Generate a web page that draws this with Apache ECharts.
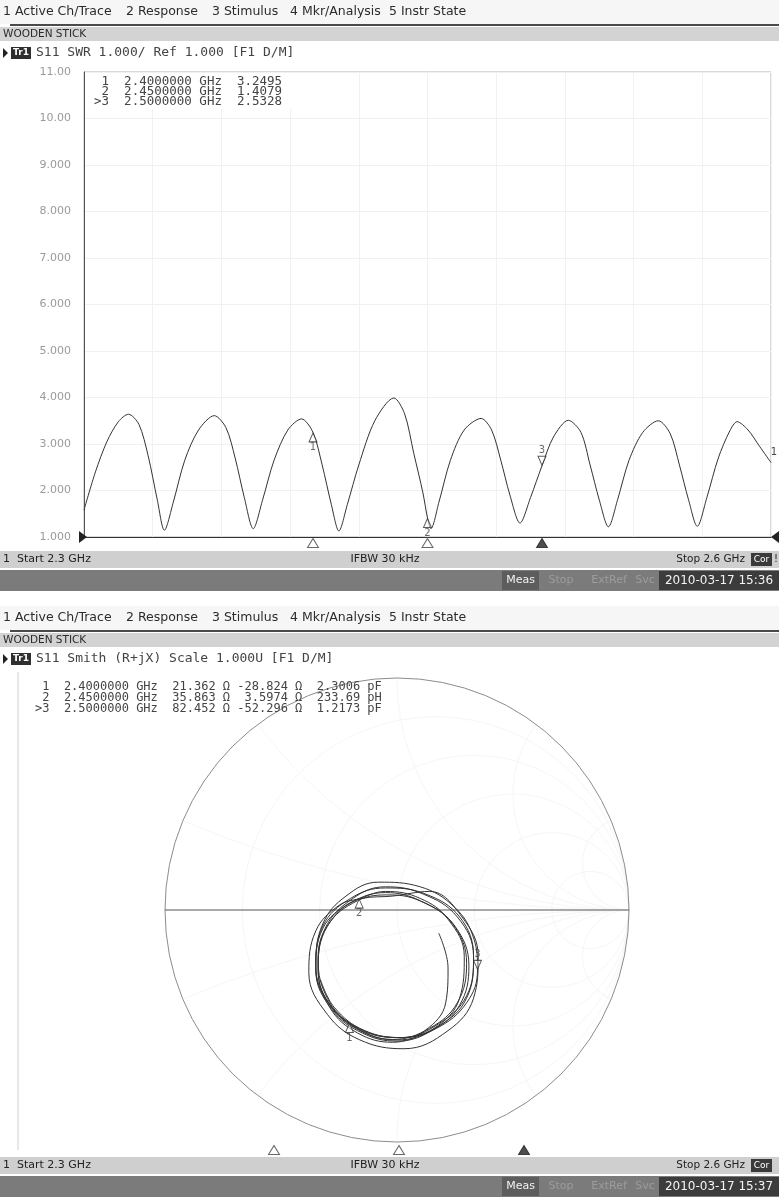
<!DOCTYPE html>
<html>
<head>
<meta charset="utf-8">
<script src="https://cdn.jsdelivr.net/npm/echarts/dist/echarts.min.js"></script>
<style>html,body{margin:0;padding:0;background:#fff}#c{width:779px;height:1197px}</style>
</head>
<body>
<div id="c"></div>
<script>
// ---------------- DATA ----------------
// SWR trace (S11 SWR)
const freqGHz = [
  2.3000, 2.3050, 2.3100, 2.3150, 2.3194, 2.3240, 2.3280, 2.3320, 2.3351,
  2.3390, 2.3440, 2.3500, 2.3569, 2.3620, 2.3660, 2.3700, 2.3739,
  2.3780, 2.3830, 2.3890, 2.3950, 2.4000, 2.4040, 2.4080, 2.4113,
  2.4150, 2.4200, 2.4270, 2.4353, 2.4400, 2.4440, 2.4480, 2.4500, 2.4515,
  2.4550, 2.4600, 2.4660, 2.4734, 2.4780, 2.4820, 2.4860, 2.4904,
  2.4950, 2.5000, 2.5050, 2.5115, 2.5170, 2.5210, 2.5250, 2.5290,
  2.5330, 2.5380, 2.5440, 2.5508, 2.5560, 2.5600, 2.5640, 2.5678,
  2.5720, 2.5770, 2.5820, 2.5852, 2.5900, 2.5950, 2.6000
];
const swrValues = [
  1.58, 2.40, 3.05, 3.48, 3.64, 3.42, 2.75, 1.80, 1.145,
  1.75, 2.65, 3.30, 3.61, 3.35, 2.70, 1.85, 1.18,
  1.80, 2.65, 3.30, 3.54, 3.2495, 2.55, 1.70, 1.13,
  1.70, 2.55, 3.50, 3.99, 3.65, 2.80, 1.95, 1.4079, 1.18,
  1.75, 2.65, 3.30, 3.55, 3.30, 2.65, 1.90, 1.30,
  1.85, 2.5328, 3.15, 3.51, 3.25, 2.55, 1.80, 1.22,
  1.80, 2.65, 3.25, 3.50, 3.22, 2.55, 1.80, 1.23,
  1.85, 2.70, 3.28, 3.48, 3.30, 2.95, 2.60
];
const smithRe = [
  0.18, 0.22, 0.21, 0.12, -0.02, -0.17, -0.29, -0.34, -0.30, -0.17, -0.03,
  0.12, 0.25, 0.31, 0.27, 0.15, 0.00, -0.15, -0.28, -0.35, -0.32, -0.20, -0.05,
  0.10, 0.24, 0.30, 0.26, 0.14, -0.02, -0.205, -0.31, -0.34, -0.28, -0.15, -0.02,
  0.14, 0.28, 0.35, 0.33, 0.22, 0.03, -0.16, -0.30, -0.38, -0.35, -0.25, -0.163, -0.05,
  0.10, 0.22, 0.29, 0.27, 0.16, 0.00, -0.16, -0.29, -0.35, -0.32, -0.22, -0.08,
  0.10, 0.25, 0.33, 0.347, 0.30, 0.17, 0.01, -0.15, -0.28, -0.34, -0.31, -0.19, -0.05,
  0.11, 0.26, 0.33, 0.30, 0.18, 0.02, -0.14, -0.28, -0.35, -0.32, -0.20, -0.05,
  0.12, 0.27, 0.33, 0.30, 0.18, 0.02, -0.14, -0.27, -0.33
];
const smithIm = [
  -0.10, -0.25, -0.40, -0.52, -0.57, -0.53, -0.42, -0.25, -0.07, 0.04, 0.065,
  0.03, -0.07, -0.24, -0.41, -0.52, -0.565, -0.53, -0.43, -0.26, -0.08, 0.03, 0.075,
  0.04, -0.06, -0.23, -0.40, -0.51, -0.558, -0.487, -0.36, -0.20, -0.04, 0.05, 0.06,
  0.08, -0.03, -0.20, -0.38, -0.52, -0.598, -0.56, -0.45, -0.27, -0.09, 0.02, 0.049, 0.08,
  0.05, -0.04, -0.20, -0.38, -0.51, -0.56, -0.52, -0.41, -0.24, -0.06, 0.06, 0.12,
  0.10, 0.01, -0.12, -0.258, -0.40, -0.51, -0.55, -0.52, -0.42, -0.26, -0.08, 0.05, 0.10,
  0.07, -0.03, -0.20, -0.38, -0.50, -0.55, -0.52, -0.42, -0.25, -0.07, 0.05, 0.095,
  0.07, -0.03, -0.20, -0.37, -0.49, -0.55, -0.52, -0.42, -0.30
];
// markers
const markerIds = ['1', '2', '3'];
const markerFreqGHz = [2.40, 2.45, 2.50];
const markerSWR = [3.2495, 1.4079, 2.5328];
const markerResOhm = [21.362, 35.863, 82.452];
const markerReactOhm = [-28.824, 3.5974, -52.296];
const markerEquiv = [2.3006, 233.69, 1.2173];
const markerEquivUnit = ['pF', 'pH', 'pF'];
const markerGammaRe = [-0.205, -0.163, 0.347];
const markerGammaIm = [-0.487, 0.049, -0.258];
const activeMarker = 2;
// texts
const menuItems = ['1 Active Ch/Trace', '2 Response', '3 Stimulus', '4 Mkr/Analysis', '5 Instr State'];
const channelTitle = 'WOODEN STICK';
const traceTitles = ['S11 SWR 1.000/ Ref 1.000 [F1 D/M]', 'S11 Smith (R+jX) Scale 1.000U [F1 D/M]'];
const startLabel = '1  Start 2.3 GHz';
const ifbwLabel = 'IFBW 30 kHz';
const stopLabel = 'Stop 2.6 GHz';
const statusItems = ['Meas', 'Stop', 'ExtRef', 'Svc'];
const timestamps = ['2010-03-17 15:36', '2010-03-17 15:37'];
const freqMin = 2.3, freqMax = 2.6;
const swrMin = 1, swrMax = 11, swrStep = 1;

// ---------------- LAYOUT ----------------
const W = 779;
const panelY = [0, 606];
const UI = '"DejaVu Sans", sans-serif';
const MONO = '"DejaVu Sans Mono", monospace';
const swrGrid = { left: 84, top: 72, width: 687, height: 465 };
const smith = { cx: 397, cy: 910, R: 232 };

const G = [];
function txt(x, y, s, o) {
  o = o || {};
  G.push({ type: 'text', z: o.z || 20, x: x, y: y, silent: true,
    style: { text: s, fill: o.fill || '#333', font: o.font || ('11px ' + UI),
      textAlign: o.align || 'left', textVerticalAlign: 'middle' } });
}
function rect(x, y, w, h, fill, z, stroke) {
  G.push({ type: 'rect', z: z == null ? 1 : z, silent: true, shape: { x: x, y: y, width: w, height: h },
    style: stroke ? { fill: fill, stroke: stroke, lineWidth: 1 } : { fill: fill } });
}
function poly(points, fill, stroke, z) {
  G.push({ type: 'polygon', z: z || 15, silent: true, shape: { points: points },
    style: { fill: fill, stroke: stroke || null, lineWidth: 1 } });
}

panelY.forEach(function (py, p) {
  // menu bar
  rect(0, py, W, 24, '#f6f6f6', 0);
  const menuX = [3, 126, 212, 290, 389];
  menuItems.forEach(function (m, i) { txt(menuX[i], py + 12, m, { font: '12.5px ' + UI, fill: '#2b2b2b' }); });
  rect(10, py + 24, W - 10, 2, '#4a4a4a', 1);
  // channel title bar
  rect(0, py + 27, W, 14, '#d3d3d3', 0);
  txt(3, py + 34, channelTitle, { font: '10.5px ' + UI, fill: '#2a2a2a' });
  // trace title
  poly([[3, py + 48], [3, py + 58], [8, py + 53]], '#222');
  rect(11, py + 47, 20, 12, '#2f2f2f', 2);
  txt(21, py + 53, 'Tr1', { font: 'bold 9px ' + UI, fill: '#fff', align: 'center' });
  txt(36, py + 53, traceTitles[p], { font: '13px ' + MONO, fill: '#444' });
  // status bar 1
  const sb = py + 551;
  rect(0, sb, W, 17, '#cfcfcf', 0);
  txt(3, sb + 8.5, startLabel, { font: '11px ' + UI, fill: '#222' });
  txt(385, sb + 8.5, ifbwLabel, { font: '11px ' + UI, fill: '#222', align: 'center' });
  txt(745, sb + 8.5, stopLabel, { font: '10.5px ' + UI, fill: '#222', align: 'right' });
  rect(751, sb + 2, 21, 13, '#3a3a3a', 2);
  txt(761.5, sb + 8.5, 'Cor', { font: '9px ' + UI, fill: '#fff', align: 'center' });
  if (p === 0) txt(776, sb + 8.5, '!', { font: '10px ' + UI, fill: '#222', align: 'center' });
  // status bar 2
  const db = py + 570;
  rect(0, db, W, 21, '#7b7b7b', 0);
  rect(502, db + 1, 37, 19, '#5d5d5d', 1);
  txt(520.5, db + 10.5, statusItems[0], { font: '11px ' + UI, fill: '#f2f2f2', align: 'center' });
  txt(561, db + 10.5, statusItems[1], { font: '11px ' + UI, fill: '#9c9c9c', align: 'center' });
  txt(609, db + 10.5, statusItems[2], { font: '11px ' + UI, fill: '#9c9c9c', align: 'center' });
  txt(645, db + 10.5, statusItems[3], { font: '11px ' + UI, fill: '#9c9c9c', align: 'center' });
  rect(659, db + 1, 120, 19, '#3c3c3c', 1);
  txt(719, db + 10.5, timestamps[p], { font: '12px ' + UI, fill: '#f4f4f4', align: 'center' });
});

// marker tables
function pad(s, n) { s = String(s); while (s.length < n) s = ' ' + s; return s; }
const swrRows = markerIds.map(function (id, i) {
  return pad((i === activeMarker ? '>' : '') + id, 2) + '  ' + markerFreqGHz[i].toFixed(7) + ' GHz  ' + markerSWR[i].toFixed(4);
});
rect(88, 73, 205, 36, '#fff', 3);
swrRows.forEach(function (r, i) { txt(94, 82 + i * 10, r, { font: '12.5px ' + MONO, fill: '#444' }); });
const smRows = markerIds.map(function (id, i) {
  return pad((i === activeMarker ? '>' : '') + id, 2) + '  ' + markerFreqGHz[i].toFixed(7) + ' GHz  ' +
    pad(markerResOhm[i].toPrecision(5), 6) + ' \u03A9 ' + pad(markerReactOhm[i].toPrecision(5), 7) + ' \u03A9  ' +
    markerEquiv[i].toPrecision(5) + ' ' + markerEquivUnit[i];
});
smRows.forEach(function (r, i) { txt(35, 687 + i * 11, r, { font: '12px ' + MONO, fill: '#444' }); });

// SWR plot edge triangles
const yBase = swrGrid.top + swrGrid.height;
poly([[79, yBase - 6], [79, yBase + 6], [87, yBase]], '#222');
poly([[779, yBase - 6], [779, yBase + 6], [771, yBase]], '#222');
txt(774, 452, '1', { font: '10px ' + UI, fill: '#444', align: 'center' });

// Smith chart structure
const faint = '#f6f6f6';
[0.2, 0.5, 1, 2, 5].forEach(function (r) {
  G.push({ type: 'circle', z: 1, silent: true,
    shape: { cx: smith.cx + smith.R * r / (1 + r), cy: smith.cy, r: smith.R / (1 + r) },
    style: { fill: 'none', stroke: faint, lineWidth: 1 } });
});
[0.2, 0.5, 1, 2, 5, -0.2, -0.5, -1, -2, -5].forEach(function (x) {
  const pts = [];
  for (let k = 0; k <= 200; k++) {
    const u = k / 200 * 0.995, r = u / (1 - u);
    const d = (r + 1) * (r + 1) + x * x;
    pts.push([smith.cx + smith.R * (r * r - 1 + x * x) / d, smith.cy - smith.R * 2 * x / d]);
  }
  G.push({ type: 'polyline', z: 1, silent: true, shape: { points: pts }, style: { stroke: faint, lineWidth: 1, fill: null } });
});
G.push({ type: 'circle', z: 2, silent: true, shape: { cx: smith.cx, cy: smith.cy, r: smith.R },
  style: { fill: 'none', stroke: '#8c8c8c', lineWidth: 1 } });
G.push({ type: 'line', z: 2, silent: true, shape: { x1: smith.cx - smith.R, y1: smith.cy, x2: smith.cx + smith.R, y2: smith.cy },
  style: { stroke: '#555', lineWidth: 1 } });
G.push({ type: 'line', z: 1, silent: true, shape: { x1: 18, y1: 672, x2: 18, y2: 1150 },
  style: { stroke: '#d0d0d0', lineWidth: 1 } });

// ---------------- CHART ----------------
const chart = echarts.init(document.getElementById('c'));
const lblFont = { fontFamily: 'DejaVu Sans', fontSize: 10, color: '#444' };
const upTri = 'path://M5,0 L10,9 L0,9 Z';
const downTri = 'path://M0,0 L10,0 L5,9 Z';

function stimMarkers(xi, yi) {
  return {
    type: 'scatter', xAxisIndex: xi, yAxisIndex: yi, silent: true, z: 5,
    data: markerFreqGHz.map(function (f, i) {
      return { value: [f, 0.5], itemStyle: i === activeMarker ? { color: '#222', borderColor: '#222' } : { color: '#fff', borderColor: '#444' } };
    }),
    symbol: upTri, symbolSize: [11, 9], itemStyle: { borderWidth: 1 }
  };
}

chart.setOption({
  animation: false,
  backgroundColor: '#fff',
  graphic: { elements: G },
  grid: [
    { left: swrGrid.left, top: swrGrid.top, width: swrGrid.width, height: swrGrid.height, show: true, borderColor: '#b5b5b5', borderWidth: 1, backgroundColor: 'transparent' },
    { left: smith.cx - smith.R, top: smith.cy - smith.R, width: 2 * smith.R, height: 2 * smith.R },
    { left: swrGrid.left, top: 538, width: swrGrid.width, height: 10 },
    { left: 24, top: 1145, width: 750, height: 10 }
  ],
  xAxis: [
    { gridIndex: 0, type: 'value', min: freqMin, max: freqMax, axisLine: { show: true, onZero: false, lineStyle: { color: '#333', width: 1 } }, axisTick: { show: false }, axisLabel: { show: false }, splitLine: { show: false } },
    { gridIndex: 0, type: 'value', min: 0, max: 10, interval: 1, position: 'top', axisLine: { show: false }, axisTick: { show: false }, axisLabel: { show: false }, splitLine: { show: true, lineStyle: { color: '#f1f1f1', width: 1 } } },
    { gridIndex: 1, type: 'value', min: -1, max: 1, show: false },
    { gridIndex: 2, type: 'value', min: freqMin, max: freqMax, show: false },
    { gridIndex: 3, type: 'value', min: freqMin, max: freqMax, show: false }
  ],
  yAxis: [
    { gridIndex: 0, type: 'value', min: swrMin, max: swrMax, interval: swrStep,
      axisLine: { show: true, lineStyle: { color: '#555', width: 1 } }, axisTick: { show: false },
      axisLabel: { color: '#9a9a9a', fontFamily: 'DejaVu Sans', fontSize: 11, margin: 13,
        formatter: function (v) { return v >= 10 ? v.toFixed(2) : v.toFixed(3); } },
      splitLine: { show: true, lineStyle: { color: '#f1f1f1', width: 1 } } },
    { gridIndex: 1, type: 'value', min: -1, max: 1, show: false },
    { gridIndex: 2, type: 'value', min: 0, max: 1, show: false },
    { gridIndex: 3, type: 'value', min: 0, max: 1, show: false }
  ],
  series: [
    { type: 'line', xAxisIndex: 0, yAxisIndex: 0, showSymbol: false, smooth: 0.3, silent: true, z: 4,
      data: freqGHz.map(function (f, i) { return [f, swrValues[i]]; }),
      lineStyle: { color: '#333', width: 1 } },
    { type: 'scatter', xAxisIndex: 0, yAxisIndex: 0, silent: true, z: 6,
      data: markerFreqGHz.map(function (f, i) {
        const act = i === activeMarker;
        return { value: [f, markerSWR[i]], name: markerIds[i], symbol: act ? downTri : upTri,
          symbolOffset: [0, act ? -5 : 5],
          label: { show: true, position: act ? 'top' : 'bottom', distance: 0, formatter: markerIds[i] } };
      }),
      symbolSize: [8, 9], itemStyle: { color: 'rgba(255,255,255,0.6)', borderColor: '#333', borderWidth: 1 },
      label: lblFont },
    { type: 'line', xAxisIndex: 2, yAxisIndex: 1, showSymbol: false, smooth: 0.4, silent: true, z: 4,
      data: smithRe.map(function (r, i) { return [r, smithIm[i]]; }),
      lineStyle: { color: '#333', width: 1 } },
    { type: 'scatter', xAxisIndex: 2, yAxisIndex: 1, silent: true, z: 6,
      data: markerIds.map(function (id, i) {
        const act = i === activeMarker;
        return { value: [markerGammaRe[i], markerGammaIm[i]], symbol: act ? downTri : upTri,
          symbolOffset: [0, act ? -5 : 5],
          label: { show: true, position: act ? 'top' : 'bottom', distance: 0, formatter: id } };
      }),
      symbolSize: [8, 9], itemStyle: { color: 'rgba(255,255,255,0.6)', borderColor: '#333', borderWidth: 1 },
      label: lblFont },
    stimMarkers(3, 2),
    stimMarkers(4, 3)
  ]
});
</script>
</body>
</html>
